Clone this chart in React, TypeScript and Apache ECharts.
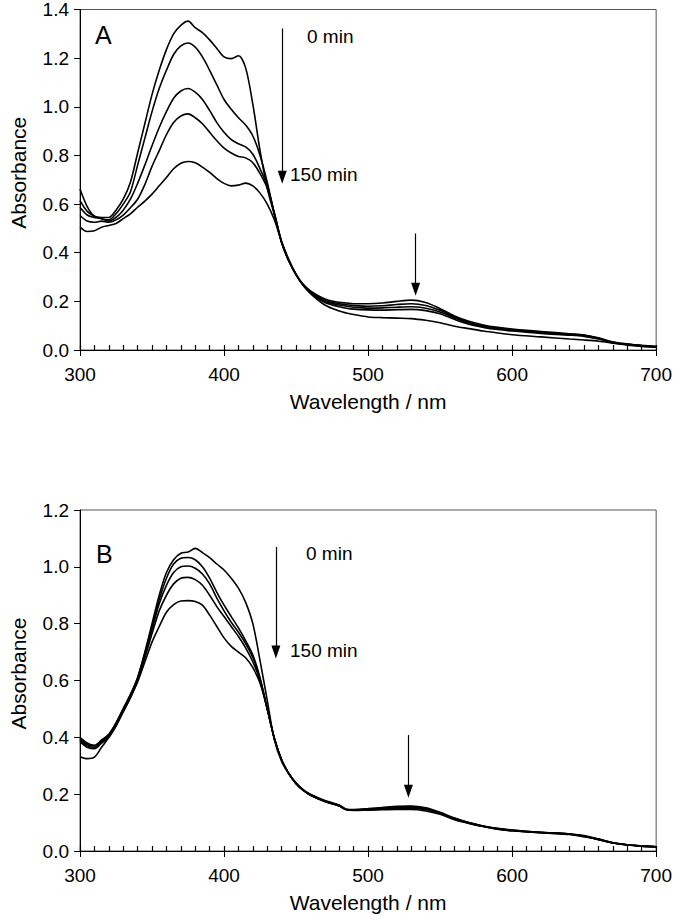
import React, { useEffect, useRef } from "react";
import * as echarts from "echarts";

// Wavelengths (nm) shared by all spectra
const WAVELENGTHS = [
  300, 305, 310, 315, 320, 325, 330, 335, 340, 345,
  350, 355, 360, 365, 370, 375, 380, 385, 390, 395,
  400, 405, 410, 415, 420, 425, 430, 435, 440, 445,
  450, 455, 460, 470, 480, 485, 490, 500, 510, 520,
  530, 540, 550, 560, 570, 580, 590, 600, 620, 640,
  650, 660, 670, 680, 690, 700,
];

// Panel A spectra (0 min -> 150 min)
const A_1 = [
  0.662, 0.59, 0.55, 0.545, 0.545, 0.575, 0.62, 0.69, 0.81, 0.93,
  1.05, 1.15, 1.235, 1.3, 1.335, 1.352, 1.325, 1.305, 1.275, 1.24,
  1.205, 1.198, 1.21, 1.16, 1.01, 0.82, 0.665, 0.555, 0.44, 0.365,
  0.31, 0.27, 0.243, 0.21, 0.196, 0.193, 0.19, 0.19, 0.193, 0.2,
  0.205, 0.195, 0.17, 0.14, 0.118, 0.103, 0.093, 0.086, 0.076, 0.067,
  0.062, 0.05, 0.033, 0.025, 0.019, 0.014,
];
const A_2 = [
  0.614, 0.57, 0.55, 0.54, 0.535, 0.56, 0.6, 0.65, 0.76, 0.87,
  0.98, 1.075, 1.15, 1.215, 1.25, 1.262, 1.245, 1.205, 1.15, 1.09,
  1.03, 0.99, 0.955, 0.925, 0.88, 0.8, 0.69, 0.558, 0.442, 0.367,
  0.31, 0.268, 0.24, 0.205, 0.19, 0.186, 0.183, 0.18, 0.182, 0.187,
  0.19, 0.183, 0.163, 0.136, 0.113, 0.099, 0.09, 0.083, 0.073, 0.065,
  0.06, 0.048, 0.032, 0.024, 0.018, 0.014,
];
const A_3 = [
  0.587, 0.555, 0.545, 0.54, 0.53, 0.545, 0.575, 0.62, 0.685, 0.76,
  0.84, 0.915, 0.98, 1.035, 1.065, 1.075, 1.06, 1.03, 0.985, 0.935,
  0.895, 0.865, 0.848, 0.835, 0.805, 0.745, 0.675, 0.56, 0.443, 0.366,
  0.309, 0.266, 0.238, 0.2, 0.185, 0.18, 0.176, 0.172, 0.173, 0.176,
  0.178, 0.172, 0.156, 0.132, 0.11, 0.097, 0.088, 0.081, 0.071, 0.064,
  0.058, 0.046, 0.031, 0.023, 0.017, 0.013,
];
const A_4 = [
  0.553, 0.53, 0.525, 0.53, 0.525, 0.535, 0.555, 0.585, 0.62, 0.68,
  0.755, 0.82, 0.885, 0.935, 0.962, 0.971, 0.955, 0.93, 0.895, 0.86,
  0.83, 0.81, 0.796, 0.79, 0.77, 0.725, 0.665, 0.562, 0.445, 0.368,
  0.31, 0.266, 0.236, 0.195, 0.178, 0.172, 0.168, 0.165, 0.164, 0.166,
  0.167, 0.162, 0.149, 0.126, 0.106, 0.093, 0.084, 0.078, 0.068, 0.061,
  0.056, 0.045, 0.03, 0.022, 0.017, 0.013,
];
const A_5 = [
  0.505, 0.487, 0.49, 0.505, 0.512, 0.52, 0.54, 0.56, 0.587, 0.612,
  0.641, 0.675, 0.709, 0.745, 0.768, 0.775, 0.77, 0.752, 0.73, 0.705,
  0.685, 0.675, 0.678, 0.686, 0.675, 0.645, 0.6, 0.535, 0.445, 0.372,
  0.312, 0.265, 0.232, 0.185, 0.16, 0.152, 0.146, 0.136, 0.133, 0.131,
  0.129, 0.122, 0.112, 0.098, 0.088, 0.078, 0.07, 0.063, 0.054, 0.045,
  0.041, 0.036, 0.028, 0.02, 0.015, 0.012,
];

// Panel B spectra (0 min -> 150 min)
const B_1 = [
  0.395, 0.375, 0.37, 0.39, 0.41, 0.45, 0.5, 0.55, 0.61, 0.7,
  0.8, 0.9, 0.98, 1.025, 1.048, 1.052, 1.065, 1.05, 1.032, 1.01,
  0.989, 0.96, 0.925, 0.875, 0.8, 0.67, 0.53, 0.39, 0.315, 0.272,
  0.24, 0.215, 0.2, 0.178, 0.162, 0.147, 0.146, 0.149, 0.153, 0.157,
  0.158, 0.152, 0.136, 0.116, 0.1, 0.088, 0.08, 0.074, 0.066, 0.06,
  0.054, 0.042, 0.029, 0.022, 0.018, 0.015,
];
const B_2 = [
  0.4, 0.38, 0.372, 0.39, 0.41, 0.45, 0.5, 0.55, 0.61, 0.695,
  0.79, 0.885, 0.96, 1.01, 1.03, 1.033, 1.025, 1.0, 0.96, 0.91,
  0.865, 0.825, 0.785, 0.74, 0.69, 0.61, 0.5, 0.395, 0.32, 0.272,
  0.238, 0.215, 0.198, 0.176, 0.16, 0.146, 0.145, 0.147, 0.151, 0.155,
  0.156, 0.15, 0.134, 0.115, 0.099, 0.087, 0.079, 0.073, 0.066, 0.06,
  0.053, 0.042, 0.029, 0.022, 0.018, 0.015,
];
const B_3 = [
  0.39, 0.37, 0.365, 0.385, 0.405, 0.445, 0.495, 0.545, 0.605, 0.69,
  0.78, 0.87, 0.935, 0.98, 1.0, 1.003, 0.995, 0.975, 0.94, 0.89,
  0.845, 0.805, 0.77, 0.73, 0.68, 0.605, 0.5, 0.395, 0.32, 0.272,
  0.238, 0.214, 0.197, 0.175, 0.159, 0.146, 0.145, 0.146, 0.15, 0.153,
  0.154, 0.148, 0.133, 0.114, 0.099, 0.087, 0.078, 0.072, 0.065, 0.059,
  0.052, 0.041, 0.029, 0.022, 0.017, 0.015,
];
const B_4 = [
  0.385, 0.365, 0.36, 0.38, 0.4, 0.44, 0.49, 0.54, 0.6, 0.68,
  0.765, 0.845, 0.9, 0.94, 0.96, 0.963, 0.955, 0.935, 0.9, 0.86,
  0.825, 0.79, 0.755, 0.715, 0.665, 0.6, 0.5, 0.395, 0.32, 0.272,
  0.237, 0.213, 0.196, 0.174, 0.158, 0.145, 0.144, 0.145, 0.148, 0.15,
  0.15, 0.145, 0.131, 0.112, 0.098, 0.086, 0.077, 0.071, 0.064, 0.059,
  0.051, 0.04, 0.028, 0.021, 0.017, 0.015,
];
const B_5 = [
  0.332, 0.325, 0.33, 0.365, 0.4, 0.44, 0.49, 0.54, 0.595, 0.665,
  0.735, 0.79, 0.84, 0.867, 0.88, 0.881, 0.878, 0.865, 0.83, 0.79,
  0.75, 0.72, 0.7, 0.68, 0.645, 0.59, 0.5, 0.395, 0.32, 0.272,
  0.237, 0.213, 0.196, 0.174, 0.158, 0.145, 0.143, 0.144, 0.145, 0.146,
  0.146, 0.141, 0.129, 0.11, 0.097, 0.086, 0.077, 0.071, 0.064, 0.058,
  0.05, 0.04, 0.028, 0.021, 0.017, 0.015,
];

// Axis ranges
const X_RANGE = [300, 700];
const Y_MAX_A = 1.4;
const Y_MAX_B = 1.2;

// Annotation arrows in data coordinates: [x, yStart, yEnd]
const ARROWS_A = [
  [440.4, 1.322, 0.71],
  [533, 0.479, 0.25],
];
const ARROWS_B = [
  [436, 1.07, 0.7],
  [528, 0.408, 0.21],
];

const FONT = '"Liberation Sans", Arial, Helvetica, sans-serif';

function pairs(ys: number[]) {
  return WAVELENGTHS.map((w, i) => [w, ys[i]]);
}

export default function App() {
  const ref = useRef<HTMLDivElement>(null);

  useEffect(() => {
    if (!ref.current) return;
    const chart = echarts.init(ref.current, undefined, { renderer: "svg" });

    const xAxisFor = (gi: number) => ({
      type: "value",
      gridIndex: gi,
      position: "bottom",
      min: X_RANGE[0],
      max: X_RANGE[1],
      interval: 100,
      name: "Wavelength / nm",
      nameLocation: "middle",
      nameGap: 41,
      nameTextStyle: { fontSize: 21, color: "#000", fontFamily: FONT },
      axisLine: { show: true, onZero: false, lineStyle: { color: "#000", width: 1 } },
      axisTick: { show: true, length: 6, lineStyle: { color: "#000", width: 1 } },
      minorTick: { show: false },
      splitLine: { show: false },
      axisLabel: { fontSize: 19, color: "#000", margin: 15, fontFamily: FONT },
    });

    // overlay axis carrying the inward ticks (major + minor every 10 nm)
    const xTickAxisFor = (gi: number) => ({
      type: "value",
      gridIndex: gi,
      position: "bottom",
      min: X_RANGE[0],
      max: X_RANGE[1],
      interval: 100,
      axisLine: { show: false, onZero: false },
      axisTick: { show: true, inside: true, length: 5, lineStyle: { color: "#000", width: 1.2 } },
      minorTick: { show: true, splitNumber: 10, length: 5, lineStyle: { color: "#000", width: 1.2 } },
      splitLine: { show: false },
      axisLabel: { show: false },
    });

    const yAxisFor = (gi: number, max: number) => ({
      type: "value",
      gridIndex: gi,
      min: 0,
      max,
      interval: 0.2,
      name: "Absorbance",
      nameLocation: "middle",
      nameGap: 51,
      nameTextStyle: { fontSize: 21, color: "#000", fontFamily: FONT, padding: [0, 0, 0, 14] },
      axisLine: { show: true, onZero: false, lineStyle: { color: "#000", width: 1 } },
      axisTick: { show: true, length: 6, lineStyle: { color: "#000", width: 1 } },
      splitLine: { show: false },
      axisLabel: {
        fontSize: 19,
        color: "#000",
        margin: 11,
        fontFamily: FONT,
        formatter: (v: number) => v.toFixed(1),
      },
    });

    const arrowLine = (arrows: number[][]) => ({
      silent: true,
      symbol: ["none", "triangle"],
      symbolSize: [9, 13],
      label: { show: false },
      lineStyle: { color: "#000", width: 1.2, type: "solid" },
      data: arrows.map(([x, y0, y1]) => [
        { coord: [x, y0] },
        { coord: [x, y1] },
      ]),
    });

    const lineSeries = (data: number[], gi: number, name: string, extra: any = {}) => ({
      type: "line",
      name,
      xAxisIndex: gi,
      yAxisIndex: gi,
      data: pairs(data),
      showSymbol: false,
      smooth: 0.3,
      lineStyle: { color: "#000", width: 1.6 },
      itemStyle: { color: "#000" },
      z: 3,
      ...extra,
    });

    const textEl = (text: string, x: number, y: number, size: number) => ({
      type: "text",
      x,
      y,
      style: {
        text,
        fill: "#000",
        font: `${size}px ${FONT}`,
        fontSize: size,
        fontFamily: FONT,
        align: "left",
        textAlign: "left",
        verticalAlign: "middle",
        textVerticalAlign: "middle",
      },
    });

    chart.setOption({
      animation: false,
      backgroundColor: "#fff",
      textStyle: { fontFamily: FONT },
      grid: [
        { left: 74, top: 8, width: 584, height: 342, show: true, borderColor: "#555", borderWidth: 1, backgroundColor: "transparent" },
        { left: 74, top: 510, width: 584, height: 341, show: true, borderColor: "#555", borderWidth: 1, backgroundColor: "transparent" },
      ],
      xAxis: [xAxisFor(0), xAxisFor(1), xTickAxisFor(0), xTickAxisFor(1)],
      yAxis: [yAxisFor(0, Y_MAX_A), yAxisFor(1, Y_MAX_B)],
      series: [
        lineSeries(A_1, 0, "A 0 min", { markLine: arrowLine(ARROWS_A) }),
        lineSeries(A_2, 0, "A 2"),
        lineSeries(A_3, 0, "A 3"),
        lineSeries(A_4, 0, "A 4"),
        lineSeries(A_5, 0, "A 150 min"),
        lineSeries(B_1, 1, "B 0 min", { markLine: arrowLine(ARROWS_B) }),
        lineSeries(B_2, 1, "B 2"),
        lineSeries(B_3, 1, "B 3"),
        lineSeries(B_4, 1, "B 4"),
        lineSeries(B_5, 1, "B 150 min"),
      ],
      graphic: [
        textEl("A", 95, 35, 25),
        textEl("B", 96, 554, 25),
        textEl("0 min", 307, 36, 19),
        textEl("150 min", 290, 174, 19),
        textEl("0 min", 306, 553, 19),
        textEl("150 min", 290, 650, 19),
      ],
    });

    return () => chart.dispose();
  }, []);

  return (
    <div
      ref={ref}
      style={{ position: "absolute", left: 0, top: 0, width: 675, height: 916, background: "#fff" }}
    />
  );
}
